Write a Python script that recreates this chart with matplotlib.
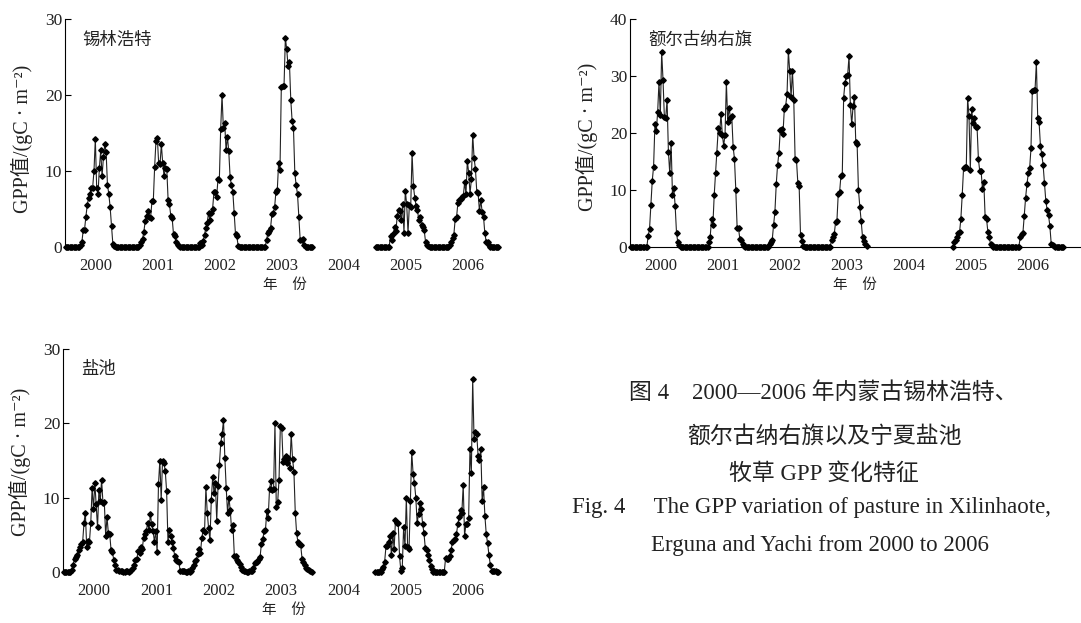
import numpy as np
import matplotlib
matplotlib.use("Agg")
import matplotlib.pyplot as plt

FAM = ['Liberation Serif', 'Noto Sans CJK SC', 'DejaVu Sans']
CJK = ['Noto Sans CJK SC', 'Liberation Serif', 'DejaVu Sans']

years = [2000, 2001, 2002, 2003, 2005, 2006]
year_labels = ['2000', '2001', '2002', '2003', '2004', '2005', '2006']
nan = float('nan')

# 锡林浩特 (8-day GPP)
xilin_2000 = [0]*11 + [0.3, 0.6, 2.2, 2.3, 4.0, 5.5, 6.5, 7.0, 7.7, 7.8, 10.0, 14.2, 7.8, 7.0, 10.4,
                       12.7, 9.3, 11.8, 13.5, 12.5, 8.2, 7.0, 5.2, 2.7, 0.4, 0.1] + [0]*9
xilin_2001 = [0]*9 + [0.3, 0.6, 1.0, 2.0, 3.4, 4.1, 4.7, 4.0, 3.8, 6.0, 6.0, 10.5, 14.0, 14.4, 11.0,
                      10.9, 13.5, 11.0, 9.3, 10.4, 10.3, 6.2, 5.6, 4.1, 3.8, 1.7, 1.5, 0.6, 0.2, 0.1] + [0]*7
xilin_2002 = [0]*8 + [0.5, 0.3, 0.8, 1.6, 2.5, 3.2, 4.5, 3.5, 4.5, 5.0, 7.2, 7.2, 6.6, 8.9, 8.8,
                      15.5, 20.0, 15.6, 16.3, 12.7, 14.5, 12.6, 9.2, 8.1, 7.3, 4.5, 1.7, 1.4, 0.1] + [0]*9
xilin_2003 = [0]*11 + [0.9, 1.8, 2.1, 2.5, 4.3, 4.5, 5.2, 7.3, 7.5, 11.1, 10.1, 21.1, 21.2, 21.2, 27.5,
                       26.0, 23.8, 24.3, 19.4, 16.6, 15.7, 9.8, 8.1, 7.0, 4.0, 0.9, 0.9, 1.0, 0.3] + [0]*6
xilin_2005 = [0]*11 + [1.5, 0.9, 1.7, 2.6, 2.1, 4.1, 4.9, 4.7, 3.5, 5.6, 1.9, 7.4, 5.6, 1.9, 5.5,
                       5.3, 12.4, 8.0, 6.5, 5.4, 4.9, 3.5, 4.0, 2.9, 2.6, 2.2, 0.7, 0.3, 0.1] + [0]*6
xilin_2006 = [0]*9 + [0.3, 0.7, 1.2, 1.6, 3.7, 3.9, 5.8, 6.2, 6.3, 6.6, 6.7, 8.5, 7.0, 11.3, 9.8,
                      7.0, 8.9, 14.8, 11.7, 10.3, 7.3, 7.1, 4.7, 6.2, 4.6, 4.0, 1.8, 0.7, 0.6, 0.2] + [0]*7

# 额尔古纳右旗
ergun_2000 = [0]*13 + [2.0, 3.2, 7.3, 11.6, 14.1, 21.6, 20.3, 23.6, 28.9, 23.2, 34.2, 29.3, 22.8, 22.7,
                       25.8, 16.7, 12.9, 18.2, 9.2, 10.4, 7.2, 2.5, 0.8, 0.3] + [0]*9
ergun_2001 = [0]*12 + [0.8, 1.8, 4.9, 3.9, 9.2, 13.0, 16.5, 20.8, 20.0, 23.3, 19.7, 17.8, 19.7, 28.9,
                       22.0, 24.4, 22.7, 23.0, 17.6, 15.5, 10.0, 3.3, 3.3, 1.4, 1.2, 0.6, 0.2] + [0]*7
ergun_2002 = [0]*11 + [0.6, 0.8, 1.2, 3.8, 6.1, 11.0, 14.4, 16.5, 20.6, 20.7, 19.9, 24.2, 24.8, 26.8,
                       34.4, 30.8, 26.3, 30.9, 25.8, 15.4, 15.3, 11.3, 10.7, 2.1, 1.1, 0.1] + [0]*9
ergun_2003 = [0]*11 + [1.2, 1.8, 2.2, 4.3, 4.5, 9.3, 9.6, 12.5, 12.7, 26.2, 28.8, 30.0, 30.2, 33.5,
                       24.9, 21.5, 24.7, 26.4, 18.4, 18.1, 10.0, 7.1, 4.6, 1.8, 1.0, 0.6, 0.2] + [nan]*8
ergun_2005 = [nan]*9 + [0.0, 0.9, 1.3, 1.8, 2.4, 2.6, 5.0, 9.2, 13.9, 14.0, 14.0, 26.1, 23.0, 13.5, 24.2,
                        21.7, 22.6, 21.1, 21.0, 15.4, 13.3, 13.3, 10.2, 11.4, 5.2, 5.0, 2.7, 1.7, 0.5, 0.3] + [0]*7
ergun_2006 = [0]*13 + [1.7, 2.2, 2.4, 5.4, 8.6, 11.0, 12.9, 13.8, 17.3, 27.4, 27.5, 27.5, 32.4, 22.6,
                       22.0, 17.8, 16.3, 14.4, 11.2, 8.1, 6.5, 5.6, 3.7, 0.6, 0.4, 0.2] + [0]*7

# 盐池
yanchi_2000 = [0]*6 + [0.3, 1.0, 1.8, 2.0, 2.3, 3.0, 3.3, 3.7, 4.0, 6.6, 8.0, 3.3, 4.2, 4.0, 6.6, 11.3,
                       8.5, 12.0, 9.1, 6.0, 11.0, 9.5, 12.4, 9.3, 9.4, 4.9, 7.4, 5.2, 5.1, 2.9, 2.7, 1.6,
                       1.0, 0.3, 0.3, 0.2, 0.2, 0.1] + [0]*2
yanchi_2001 = [0.1, 0.1, 0.05, 0.1, 0.3, 0.6, 1.0, 1.6, 1.8, 2.8, 2.6, 3.3, 3.1, 4.6, 5.1, 5.5, 6.6,
               5.6, 7.8, 6.4, 5.5, 4.1, 5.5, 2.7, 11.8, 15.0, 9.7, 15.0, 14.7, 13.6, 10.9, 4.1, 5.6,
               4.8, 4.1, 3.2, 2.2, 1.6, 1.5, 1.3, 0.2, 0.1, 0.1, 0.1, 0.0, 0.0]
yanchi_2002 = [0.1, 0.0, 0.1, 0.5, 0.9, 1.5, 1.6, 2.4, 3.1, 2.6, 4.6, 5.7, 5.4, 11.4, 8.0, 5.9, 4.3,
               9.7, 12.8, 10.6, 12.0, 6.9, 11.6, 14.4, 17.4, 18.6, 20.4, 15.4, 11.3, 8.0, 10.0, 8.3,
               5.6, 6.3, 2.2, 2.1, 1.6, 1.3, 1.1, 0.7, 0.3, 0.1, 0.1, 0.0, 0.0, 0.1]
yanchi_2003 = [0.1, 0.1, 0.5, 1.2, 1.3, 1.3, 1.7, 2.0, 3.8, 4.4, 5.5, 5.7, 8.2, 7.3, 11.2, 12.2, 11.0,
               11.2, 20.0, 8.7, 9.4, 12.4, 19.7, 19.4, 14.8, 15.2, 15.6, 14.6, 15.4, 14.0, 18.6, 15.2,
               13.5, 8.0, 5.2, 4.0, 3.8, 3.6, 1.8, 1.4, 1.0, 0.6, 0.4, 0.3, 0.1, 0.0]
yanchi_2005 = [0]*5 + [0.4, 0.7, 1.4, 3.5, 3.5, 4.1, 4.8, 2.3, 5.3, 3.1, 7.0, 6.6, 6.6, 2.1, 0.1, 0.6,
                       6.0, 3.5, 9.9, 3.3, 3.1, 9.5, 16.1, 13.2, 12.0, 10.0, 6.6, 7.8, 9.3, 8.5, 6.5,
                       5.3, 3.2, 2.9, 2.3, 1.6, 0.8, 0.4, 0.0] + [0]*2
yanchi_2006 = [0]*6 + [1.9, 1.8, 1.7, 2.2, 2.9, 4.0, 4.3, 4.5, 5.1, 6.4, 7.4, 8.3, 8.0, 11.7, 4.9, 6.4,
                       6.4, 7.2, 16.6, 13.3, 26.0, 17.9, 18.9, 18.5, 15.6, 15.1, 16.6, 9.5, 11.4, 7.6,
                       5.1, 3.9, 2.3, 1.0, 0.2, 0.1, 0.1, 0.1, 0.0] + [0]*1

xilin = [xilin_2000, xilin_2001, xilin_2002, xilin_2003, xilin_2005, xilin_2006]
ergun = [ergun_2000, ergun_2001, ergun_2002, ergun_2003, ergun_2005, ergun_2006]
yanchi = [yanchi_2000, yanchi_2001, yanchi_2002, yanchi_2003, yanchi_2005, yanchi_2006]


def series(per_year):
    xs, ys = [], []
    prev = None
    for yr, vals in zip(years, per_year):
        if prev is not None and yr != prev + 1:
            xs.append(nan)
            ys.append(nan)
        n = len(vals)
        xs.extend(yr + (np.arange(n) + 0.5) / n)
        ys.extend(vals)
        prev = yr
    return np.array(xs), np.array(ys)


W, H = 1081, 623
fig = plt.figure(figsize=(W / 100, H / 100), dpi=100)


def px_axes(left, top, right, bottom):
    return fig.add_axes([left / W, 1 - bottom / H, (right - left) / W, (bottom - top) / H])


def panel(ax, per_year, ymax, name, show_bottom):
    x, y = series(per_year)
    ax.plot(x, y, color='#222222', lw=0.8, marker='D', ms=2.8, mfc='black', mec='black',
            clip_on=False)
    ax.set_ylim(0, ymax)
    ax.set_yticks(np.arange(0, ymax + 1, 10))
    ax.set_xticks(np.arange(2000, 2007) + 0.5)
    ax.set_xticklabels(year_labels)
    for s in ['top', 'right']:
        ax.spines[s].set_visible(False)
    ax.spines['bottom'].set_visible(show_bottom)
    ax.spines['left'].set_linewidth(0.8)
    ax.spines['bottom'].set_linewidth(0.8)
    ax.tick_params(axis='y', direction='in', length=4, width=0.8, pad=2, labelsize=12.5)
    ax.tick_params(axis='x', length=0, pad=8, labelsize=12)
    for lab in ax.get_xticklabels() + ax.get_yticklabels():
        lab.set_family(FAM)
        lab.set_color('#222222')
    ax.text(0.04, 0.91, name, transform=ax.transAxes, family=CJK, fontsize=12.5,
            ha='left', va='center', color='#222222')
    ax.set_xlabel('年\u3000份', family=CJK, fontsize=10.5, labelpad=3, color='#222222')


ylab = 'GPP值/(gC · m\u207b\u00b2)'

ax1 = px_axes(65, 19, 505, 247)
ax1.set_xlim(2000, 2000 + 440 / 62)
panel(ax1, xilin, 30, '锡林浩特', False)
fig.text(22 / W, 1 - 139 / H, ylab, rotation=90, ha='center', va='center', family=FAM,
         fontsize=14.5, color='#222222')

ax2 = px_axes(630, 19, 1080, 247)
ax2.set_xlim(2000, 2000 + 450 / 62)
panel(ax2, ergun, 40, '额尔古纳右旗', True)
fig.text(587 / W, 1 - 137 / H, ylab, rotation=90, ha='center', va='center', family=FAM,
         fontsize=14.5, color='#222222')

ax3 = px_axes(63, 349, 505, 572)
ax3.set_xlim(2000, 2000 + 442 / 62.3)
panel(ax3, yanchi, 30, '盐池', False)
fig.text(20 / W, 1 - 462 / H, ylab, rotation=90, ha='center', va='center', family=FAM,
         fontsize=14.5, color='#222222')

# caption
cap = [
    ('图 4\u30002000—2006 年内蒙古锡林浩特、', 823, 393, 'center', 16.5),
    ('额尔古纳右旗以及宁夏盐池', 824, 437, 'center', 16.5),
    ('牧草 GPP 变化特征', 824, 474, 'center', 16.5),
    ('Fig. 4\u3000 The GPP variation of pasture in Xilinhaote,', 572, 508, 'left', 16.5),
    ('Erguna and Yachi from 2000 to 2006', 820, 546, 'center', 16.5),
]
for txt, cx, cy, ha, fs in cap:
    fig.text(cx / W, 1 - cy / H, txt, ha=ha, va='center', family=FAM, fontsize=fs,
             color='#222222')

fig.savefig('out.png', dpi=100)
